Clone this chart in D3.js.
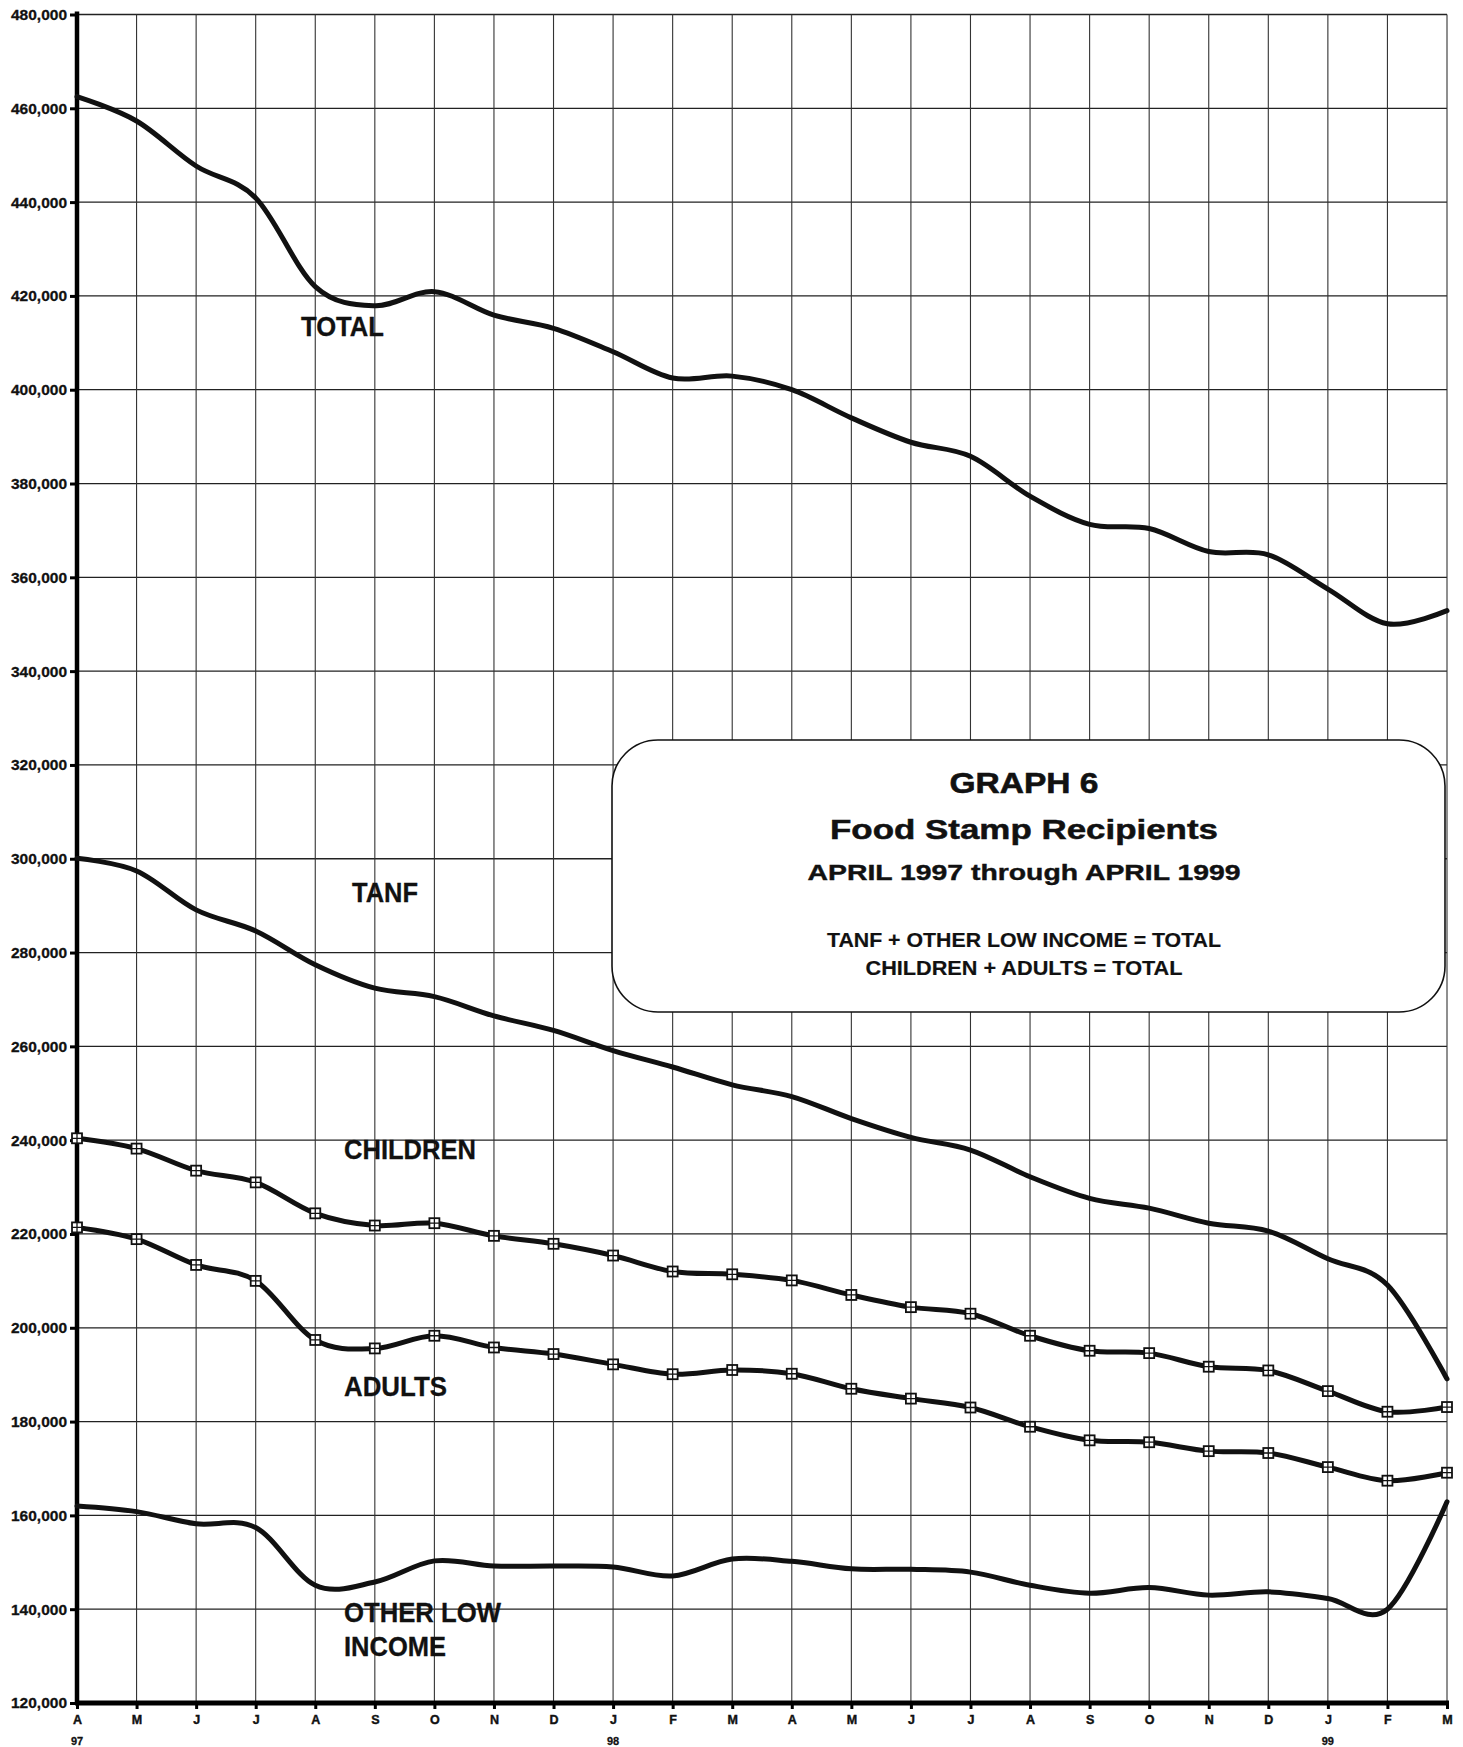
<!DOCTYPE html>
<html>
<head>
<meta charset="utf-8">
<script src="https://cdn.jsdelivr.net/npm/d3@7"></script>
<style>
  html, body { margin: 0; padding: 0; background: #fff; }
  svg { display: block; }
  text { font-family: "Liberation Sans", Arial, sans-serif; fill: #111; }
</style>
</head>
<body>
<svg id="chart" width="1463" height="1747"></svg>
<script>
// ---------------- DATA ----------------
const monthLabels = ["A","M","J","J","A","S","O","N","D","J","F","M","A","M","J","J","A","S","O","N","D","J","F","M"];
const yearLabels = [{i:0, t:"97"}, {i:9, t:"98"}, {i:21, t:"99"}];
const yTicks = [120000,140000,160000,180000,200000,220000,240000,260000,280000,300000,320000,340000,360000,380000,400000,420000,440000,460000,480000];

const total    = [462500,457300,447700,440900,422000,417900,420900,415900,413100,408100,402500,402900,400000,394000,388800,385800,377300,371300,370400,365500,364800,357500,350100,352900];
const tanf     = [300100,297400,289100,284600,277400,272400,270600,266500,263400,259100,255600,251800,249300,244600,240600,237900,232200,227600,225500,222300,220600,214700,209100,189100];
const children = [240400,238200,233500,231000,224400,221800,222300,219600,217900,215400,212000,211400,210100,207000,204400,203000,198300,195100,194600,191700,190900,186500,182100,183100];
const adults   = [221400,218900,213400,210000,197400,195600,198300,195800,194400,192200,190100,191000,190200,187000,184900,183000,178900,176000,175600,173700,173300,170300,167400,169100];
const otherLow = [162000,160800,158200,157400,145100,145800,150300,149200,149200,149000,147100,150700,150200,148600,148500,147900,145100,143400,144600,143000,143700,142300,140000,162900];

const titleLines = ["GRAPH 6", "Food Stamp Recipients", "APRIL 1997  through APRIL 1999", "TANF + OTHER LOW INCOME = TOTAL", "CHILDREN  + ADULTS = TOTAL"];

// ---------------- LAYOUT ----------------
const svg = d3.select("#chart");
const plotLeft = 77, plotRight = 1447, plotTop = 14.5, plotBottom = 1703;

const x = d3.scalePoint().domain(d3.range(monthLabels.length)).range([plotLeft, plotRight]);
const y = d3.scaleLinear().domain([120000, 480000]).range([plotBottom, plotTop]);

// gridlines
const grid = svg.append("g");
grid.append("g").selectAll("line").data(yTicks).join("line")
  .attr("x1", plotLeft).attr("x2", plotRight)
  .attr("y1", d => y(d)).attr("y2", d => y(d))
  .attr("stroke", "#222").attr("stroke-width", 1.3);
grid.append("g").selectAll("line").data(d3.range(1, monthLabels.length)).join("line")
  .attr("x1", d => x(d)).attr("x2", d => x(d))
  .attr("y1", plotTop).attr("y2", plotBottom)
  .attr("stroke", "#333").attr("stroke-width", 1.1);

// Y axis
const yAxis = d3.axisLeft(y).tickValues(yTicks).tickFormat(d3.format(",")).tickSize(7).tickPadding(3);
const gy = svg.append("g").attr("transform", `translate(${plotLeft},0)`).call(yAxis);
gy.select(".domain").remove();
gy.selectAll(".tick line").attr("stroke", "#000").attr("stroke-width", 3);
gy.selectAll(".tick text").attr("font-size", 15.5).attr("font-weight", "bold")
  .attr("font-family", "'Liberation Sans', Arial, sans-serif").attr("fill", "#111")
  .attr("stroke", "#111").attr("stroke-width", 0.3);
svg.append("line").attr("x1", plotLeft).attr("x2", plotLeft).attr("y1", plotTop - 3).attr("y2", plotBottom + 2)
  .attr("stroke", "#000").attr("stroke-width", 4.5);

// X axis
const xAxis = d3.axisBottom(x).tickFormat(i => monthLabels[i]).tickSize(6).tickPadding(6);
const gx = svg.append("g").attr("transform", `translate(0,${plotBottom})`).call(xAxis);
gx.select(".domain").remove();
gx.selectAll(".tick line").attr("stroke", "#000").attr("stroke-width", 3);
gx.selectAll(".tick text").attr("font-size", 12.5).attr("font-weight", "bold")
  .attr("font-family", "'Liberation Sans', Arial, sans-serif").attr("fill", "#111")
  .attr("stroke", "#111").attr("stroke-width", 0.4);
svg.append("line").attr("x1", plotLeft - 2).attr("x2", plotRight + 2).attr("y1", plotBottom).attr("y2", plotBottom)
  .attr("stroke", "#000").attr("stroke-width", 5);
svg.append("g").selectAll("text").data(yearLabels).join("text")
  .attr("x", d => x(d.i)).attr("y", 1745)
  .attr("text-anchor", "middle").attr("font-size", 11).attr("font-weight", "bold")
  .attr("stroke", "#111").attr("stroke-width", 0.3)
  .text(d => d.t);

// legend box
const box = svg.append("g");
box.append("rect").attr("x", 612).attr("y", 740).attr("width", 833).attr("height", 272)
  .attr("rx", 46).attr("ry", 46).attr("fill", "#fff").attr("stroke", "#111").attr("stroke-width", 1.6);
const tl = [
  {t: titleLines[0], y: 793, fs: 30, w: 149, ff: "'DejaVu Sans', sans-serif", sw: 0.6},
  {t: titleLines[1], y: 839, fs: 28, w: 388, ff: "'DejaVu Sans', sans-serif", sw: 0.5},
  {t: titleLines[2], y: 880, fs: 22, w: 433, ff: "'DejaVu Sans', sans-serif", sw: 0.4},
  {t: titleLines[3], y: 947, fs: 21, w: 394, ff: "'Liberation Sans', Arial, sans-serif", sw: 0.2},
  {t: titleLines[4], y: 975, fs: 21, w: 317, ff: "'Liberation Sans', Arial, sans-serif", sw: 0.2}
];
box.selectAll("text").data(tl).join("text")
  .attr("x", 1024).attr("y", d => d.y).attr("text-anchor", "middle")
  .attr("font-family", d => d.ff)
  .attr("font-size", d => d.fs).attr("font-weight", "bold")
  .attr("stroke", "#111").attr("stroke-width", d => d.sw)
  .attr("textLength", d => d.w).attr("lengthAdjust", "spacingAndGlyphs")
  .text(d => d.t);

// lines
const line = d3.line().x((d, i) => x(i)).y(d => y(d)).curve(d3.curveCardinal.tension(0));
const series = [total, tanf, children, adults, otherLow];
svg.append("g").selectAll("path").data(series).join("path")
  .attr("d", d => line(d)).attr("fill", "none").attr("stroke", "#111")
  .attr("stroke-width", 5).attr("stroke-linejoin", "round").attr("stroke-linecap", "round");

// markers for children & adults
const mk = svg.append("g");
[children, adults].forEach(s => {
  const g = mk.append("g");
  const pts = g.selectAll("g").data(s).join("g")
    .attr("transform", (d, i) => `translate(${x(i)},${y(d)})`);
  pts.append("rect").attr("x", -5).attr("y", -5).attr("width", 10).attr("height", 10)
    .attr("fill", "#fff").attr("stroke", "#111").attr("stroke-width", 1.8);
  pts.append("path").attr("d", "M-5,0H5M0,-5V5").attr("stroke", "#111").attr("stroke-width", 1.3);
});

// series labels
const labels = [
  {t: "TOTAL", x: 301, y: 336, w: 83},
  {t: "TANF", x: 352, y: 902, w: 66},
  {t: "CHILDREN", x: 344, y: 1159, w: 132},
  {t: "ADULTS", x: 344, y: 1396, w: 103},
  {t: "OTHER LOW", x: 344, y: 1622, w: 157},
  {t: "INCOME", x: 344, y: 1656, w: 102}
];
svg.append("g").selectAll("text").data(labels).join("text")
  .attr("x", d => d.x).attr("y", d => d.y)
  .attr("font-size", 27).attr("font-weight", "bold")
  .attr("stroke", "#111").attr("stroke-width", 0.3)
  .attr("textLength", d => d.w).attr("lengthAdjust", "spacingAndGlyphs")
  .text(d => d.t);
</script>
</body>
</html>
